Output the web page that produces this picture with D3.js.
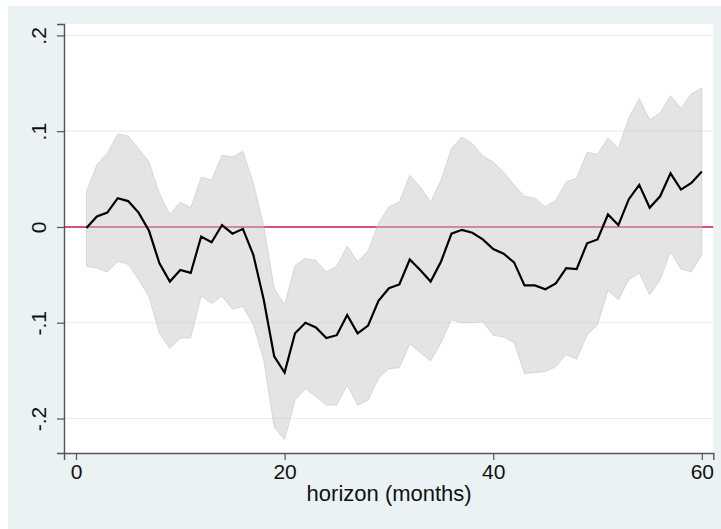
<!DOCTYPE html>
<html>
<head>
<meta charset="utf-8">
<script src="https://cdn.jsdelivr.net/npm/d3@7"></script>
<style>
  html, body { margin: 0; padding: 0; background: #ffffff; }
  svg { display: block; }
  text { font-family: "Liberation Sans", Arial, sans-serif; }
</style>
</head>
<body>
<svg id="chart" width="721" height="529"></svg>
<script>
// Impulse response by horizon, with confidence band
const horizon = [1,2,3,4,5,6,7,8,9,10,11,12,13,14,15,16,17,18,19,20,
                 21,22,23,24,25,26,27,28,29,30,31,32,33,34,35,36,37,38,39,40,
                 41,42,43,44,45,46,47,48,49,50,51,52,53,54,55,56,57,58,59,60];

const irf = [-0.001,0.011,0.015,0.030,0.027,0.015,-0.004,-0.038,-0.057,-0.045,
             -0.048,-0.010,-0.016,0.002,-0.007,-0.002,-0.029,-0.076,-0.135,-0.152,
             -0.111,-0.100,-0.105,-0.116,-0.113,-0.092,-0.111,-0.103,-0.077,-0.064,
             -0.060,-0.034,-0.045,-0.057,-0.036,-0.007,-0.003,-0.006,-0.013,-0.023,
             -0.028,-0.037,-0.061,-0.061,-0.065,-0.059,-0.043,-0.044,-0.017,-0.013,
             0.013,0.002,0.029,0.044,0.020,0.032,0.056,0.039,0.046,0.058];

const upper = [0.037,0.065,0.077,0.097,0.095,0.082,0.068,0.035,0.013,0.026,
               0.020,0.052,0.049,0.075,0.073,0.079,0.046,0.001,-0.064,-0.081,
               -0.040,-0.033,-0.035,-0.047,-0.041,-0.020,-0.036,-0.025,0.004,0.021,
               0.026,0.054,0.042,0.026,0.049,0.082,0.094,0.087,0.074,0.068,
               0.057,0.044,0.032,0.030,0.021,0.028,0.047,0.051,0.078,0.076,
               0.093,0.082,0.114,0.134,0.112,0.119,0.137,0.124,0.139,0.145];

const lower = [-0.041,-0.043,-0.047,-0.036,-0.039,-0.055,-0.073,-0.111,-0.127,-0.116,
               -0.116,-0.072,-0.080,-0.072,-0.086,-0.083,-0.102,-0.139,-0.209,-0.222,
               -0.181,-0.169,-0.177,-0.186,-0.186,-0.165,-0.186,-0.181,-0.158,-0.148,
               -0.147,-0.122,-0.131,-0.140,-0.121,-0.097,-0.100,-0.100,-0.099,-0.113,
               -0.115,-0.121,-0.153,-0.152,-0.151,-0.146,-0.133,-0.138,-0.113,-0.102,
               -0.066,-0.076,-0.055,-0.048,-0.071,-0.055,-0.026,-0.044,-0.047,-0.029];

const xTicks = [0, 20, 40, 60];
const yTicks = [-0.2, -0.1, 0, 0.1, 0.2];
const yTickLabels = ["-.2", "-.1", "0", ".1", ".2"];
const xTitle = "horizon (months)";

const rows = horizon.map((h, i) => ({ h, m: irf[i], hi: upper[i], lo: lower[i] }));

const svg = d3.select("#chart");
const plot = { left: 64, right: 713.3, top: 24, bottom: 453 };

// outer graph region
svg.append("rect")
  .attr("x", 8).attr("y", 6).attr("width", 713).attr("height", 523)
  .attr("fill", "#eaf2f3");

// inner plot region
svg.append("rect")
  .attr("x", plot.left).attr("y", plot.top)
  .attr("width", plot.right - plot.left).attr("height", plot.bottom - plot.top)
  .attr("fill", "#ffffff");

const x = d3.scaleLinear().domain([-1.15, 61.1]).range([plot.left, plot.right]);
const y = d3.scaleLinear().domain([-0.236, 0.2119]).range([plot.bottom, plot.top]);

// horizontal grid
svg.append("g").selectAll("line").data(yTicks).join("line")
  .attr("x1", plot.left).attr("x2", plot.right)
  .attr("y1", d => y(d)).attr("y2", d => y(d))
  .attr("stroke", "#e6eef1").attr("stroke-width", 1.2);

// zero reference line
svg.append("line")
  .attr("x1", plot.left).attr("x2", plot.right)
  .attr("y1", y(0)).attr("y2", y(0))
  .attr("stroke", "#c91f4b").attr("stroke-width", 1.6);

// confidence band
const band = d3.area().x(d => x(d.h)).y0(d => y(d.lo)).y1(d => y(d.hi));
svg.append("path").datum(rows)
  .attr("d", band)
  .attr("fill", "#c6c6c6").attr("fill-opacity", 0.48)
  .attr("stroke", "#b8b8b8").attr("stroke-opacity", 0.45).attr("stroke-width", 1);

// point estimate
const line = d3.line().x(d => x(d.h)).y(d => y(d.m));
svg.append("path").datum(rows)
  .attr("d", line)
  .attr("fill", "none").attr("stroke", "#000000").attr("stroke-width", 2.2)
  .attr("stroke-linejoin", "miter");

// y axis
const yAxis = svg.append("g")
  .attr("transform", `translate(${plot.left},0)`)
  .call(d3.axisLeft(y).tickValues(yTicks)
    .tickFormat((d, i) => yTickLabels[i]).tickSizeOuter(0).tickSize(7).tickPadding(0));
yAxis.select(".domain").attr("stroke", "#555555").attr("stroke-width", 1.4);
yAxis.selectAll(".tick line").attr("stroke", "#555555").attr("stroke-width", 1.2);
yAxis.selectAll(".tick text")
  .attr("x", 0).attr("dy", 0)
  .attr("transform", "translate(-18,0) rotate(-90)")
  .attr("text-anchor", "middle")
  .attr("fill", "#111111")
  .style("font-size", "21px");

// x axis
const xAxis = svg.append("g")
  .attr("transform", `translate(0,${plot.bottom})`)
  .call(d3.axisBottom(x).tickValues(xTicks).tickSizeOuter(0).tickSize(7).tickPadding(4));
xAxis.select(".domain").attr("stroke", "#555555").attr("stroke-width", 1.4);
xAxis.selectAll(".tick line").attr("stroke", "#555555").attr("stroke-width", 1.2);
xAxis.selectAll(".tick text")
  .attr("fill", "#111111")
  .style("font-size", "21px");

// x axis title
svg.append("text")
  .attr("x", (plot.left + plot.right) / 2 + 0.5).attr("y", 501)
  .attr("text-anchor", "middle")
  .attr("fill", "#111111")
  .style("font-size", "22px")
  .text(xTitle);
</script>
</body>
</html>
